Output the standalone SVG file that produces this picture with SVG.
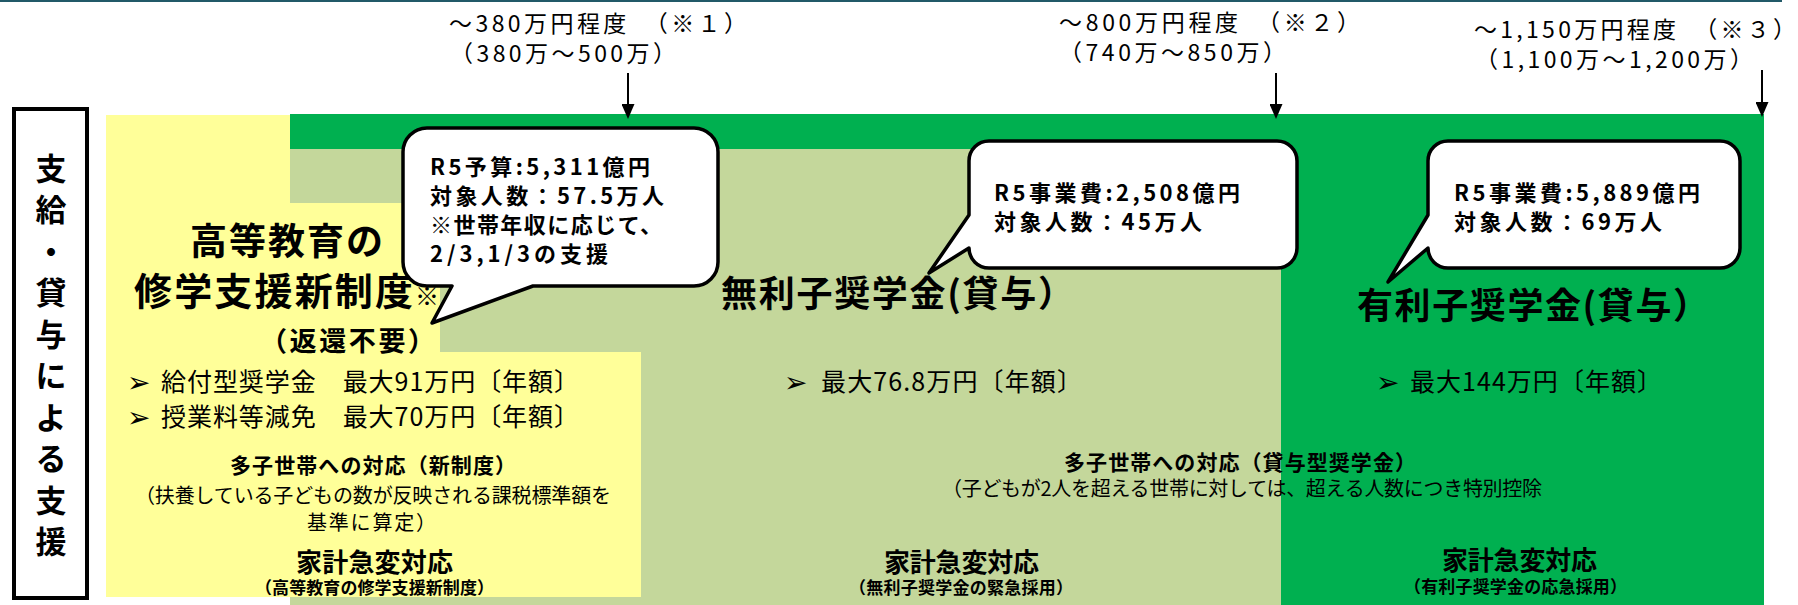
<svg xmlns="http://www.w3.org/2000/svg" width="1798" height="605" viewBox="0 0 1798 605">
<defs>
<style>
text{font-family:"Noto Sans CJK JP","Noto Sans",sans-serif;fill:#000}
.b{font-weight:bold}
.lab{font-size:23px}
.co{font-size:22px;font-weight:bold}
.ttl{font-size:36px;font-weight:bold}
.bul{font-size:25px}
.mk{font-family:"DejaVu Sans",sans-serif;font-size:28px}
.sub{font-size:21px;font-weight:bold}
.note{font-size:20px}
.kk{font-size:26px;font-weight:bold}
.sm{font-size:17px;font-weight:bold}
.vert{font-size:31px;font-weight:bold;text-anchor:middle}
.callout{fill:#fff;stroke:#000;stroke-width:3.5;stroke-linejoin:round}
.conn{stroke:#000;stroke-width:2;fill:none}
</style>
<marker id="ah" markerUnits="userSpaceOnUse" markerWidth="15" markerHeight="13" refX="0" refY="6.5" orient="auto"><path d="M0,0 L15,6.5 L0,13 Z" fill="#000"/></marker>
</defs>
<rect x="0" y="0" width="1782" height="2" fill="#215968"/>
<g id="bands">
<rect x="290" y="149" width="991" height="456" fill="#c4d79b"/>
<path d="M290,114 H1764 V605 H1281 V149 H290 Z" fill="#00b050"/>
<path d="M106,115 H290 V203 H440 V352 H641 V597 H106 Z" fill="#ffff99"/>
</g>
<g id="side-label">
<rect x="14" y="109" width="73" height="489" fill="#fff" stroke="#000" stroke-width="4"/>
<text class="vert" x="51" y="180">支</text>
<text class="vert" x="51" y="221">給</text>
<text class="vert" x="51" y="263">・</text>
<text class="vert" x="51" y="304">貸</text>
<text class="vert" x="51" y="346">与</text>
<text class="vert" x="51" y="387">に</text>
<text class="vert" x="51" y="429">よ</text>
<text class="vert" x="51" y="470">る</text>
<text class="vert" x="51" y="512">支</text>
<text class="vert" x="51" y="553">援</text>
</g>
<g id="income-labels">
<text class="lab" x="449" y="32" textLength="298" lengthAdjust="spacing">～380万円程度　（※１）</text>
<text class="lab" x="450" y="62" textLength="226" lengthAdjust="spacing">（380万～500万）</text>
<text class="lab" x="1059" y="31" textLength="301" lengthAdjust="spacing">～800万円程度　（※２）</text>
<text class="lab" x="1059" y="61" textLength="227" lengthAdjust="spacing">（740万～850万）</text>
<text class="lab" x="1474" y="38" textLength="322" lengthAdjust="spacing">～1,150万円程度　（※３）</text>
<text class="lab" x="1475" y="68" textLength="278" lengthAdjust="spacing">（1,100万～1,200万）</text>
</g>
<g id="connectors">
<line class="conn" x1="628" y1="73" x2="628" y2="104" marker-end="url(#ah)"/>
<line class="conn" x1="1276" y1="73" x2="1276" y2="104" marker-end="url(#ah)"/>
<line class="conn" x1="1762" y1="70" x2="1762" y2="102" marker-end="url(#ah)"/>
</g>
<g id="col-grant">
<text class="ttl" x="190" y="255" style="font-size:37px" textLength="193" lengthAdjust="spacing">高等教育の</text>
<text class="ttl" x="134" y="305" style="font-size:38px" textLength="279" lengthAdjust="spacing">修学支援新制度</text>
<text x="415" y="305" style="font-size:24px">※</text>
<text class="b" x="260" y="351" style="font-size:27px" textLength="175" lengthAdjust="spacing">（返還不要）</text>
<text class="mk" x="127" y="392">➢</text>
<text class="bul" x="161" y="391" textLength="418" lengthAdjust="spacing">給付型奨学金　最大91万円〔年額〕</text>
<text class="mk" x="127" y="427">➢</text>
<text class="bul" x="161" y="426" textLength="418" lengthAdjust="spacing">授業料等減免　最大70万円〔年額〕</text>
<text class="sub" x="230" y="473" textLength="286" lengthAdjust="spacing">多子世帯への対応（新制度）</text>
<text class="note" x="135" y="503" textLength="476" lengthAdjust="spacing">（扶養している子どもの数が反映される課税標準額を</text>
<text class="note" x="307" y="530" textLength="129" lengthAdjust="spacing">基準に算定）</text>
<text class="kk" x="296" y="572" textLength="157" lengthAdjust="spacing">家計急変対応</text>
<text class="sm" x="255" y="594" textLength="239" lengthAdjust="spacing">（高等教育の修学支援新制度）</text>
</g>
<g id="col-interest-free">
<text class="ttl" x="721" y="307" textLength="353" lengthAdjust="spacing">無利子奨学金(貸与）</text>
<text class="mk" x="784" y="392">➢</text>
<text class="bul" x="821" y="391" textLength="261" lengthAdjust="spacing">最大76.8万円〔年額〕</text>
<text class="sub" x="1064" y="470" textLength="352" lengthAdjust="spacing">多子世帯への対応（貸与型奨学金）</text>
<text class="note" x="942" y="496" textLength="600" lengthAdjust="spacing">（子どもが2人を超える世帯に対しては、超える人数につき特別控除</text>
<text class="kk" x="884" y="572" textLength="155" lengthAdjust="spacing">家計急変対応</text>
<text class="sm" x="849" y="594" textLength="224" lengthAdjust="spacing">（無利子奨学金の緊急採用）</text>
</g>
<g id="col-interest">
<text class="ttl" x="1357" y="319" textLength="352" lengthAdjust="spacing">有利子奨学金(貸与）</text>
<text class="mk" x="1376" y="392">➢</text>
<text class="bul" x="1410" y="391" textLength="252" lengthAdjust="spacing">最大144万円〔年額〕</text>
<text class="kk" x="1442" y="570" textLength="155" lengthAdjust="spacing">家計急変対応</text>
<text class="sm" x="1404" y="593" textLength="223" lengthAdjust="spacing">（有利子奨学金の応急採用）</text>
</g>
<g id="callout-1">
<path class="callout" d="M427,128 H694 A24,24 0 0 1 718,152 V262 A24,24 0 0 1 694,286 H533 L432,323 L452,286 H427 A24,24 0 0 1 403,262 V152 A24,24 0 0 1 427,128 Z"/>
<text class="co" x="430" y="175" textLength="220" lengthAdjust="spacing">R5予算:5,311億円</text>
<text class="co" x="430" y="204" textLength="234" lengthAdjust="spacing">対象人数：57.5万人</text>
<text class="co" x="430" y="233" textLength="232" lengthAdjust="spacing">※世帯年収に応じて、</text>
<text class="co" x="430" y="262" textLength="178" lengthAdjust="spacing">2/3,1/3の支援</text>
</g>
<g id="callout-2">
<path class="callout" d="M989,141 H1277 A20,20 0 0 1 1297,161 V248 A20,20 0 0 1 1277,268 H989 A20,20 0 0 1 969,248 L929,273 L969,215 V161 A20,20 0 0 1 989,141 Z"/>
<text class="co" x="994" y="201" textLength="246" lengthAdjust="spacing">R5事業費:2,508億円</text>
<text class="co" x="994" y="230" textLength="208" lengthAdjust="spacing">対象人数：45万人</text>
</g>
<g id="callout-3">
<path class="callout" d="M1448,141 H1720 A20,20 0 0 1 1740,161 V248 A20,20 0 0 1 1720,268 H1448 A20,20 0 0 1 1428,248 L1388,282 L1428,215 V161 A20,20 0 0 1 1448,141 Z"/>
<text class="co" x="1454" y="201" textLength="246" lengthAdjust="spacing">R5事業費:5,889億円</text>
<text class="co" x="1454" y="230" textLength="208" lengthAdjust="spacing">対象人数：69万人</text>
</g>
</svg>
